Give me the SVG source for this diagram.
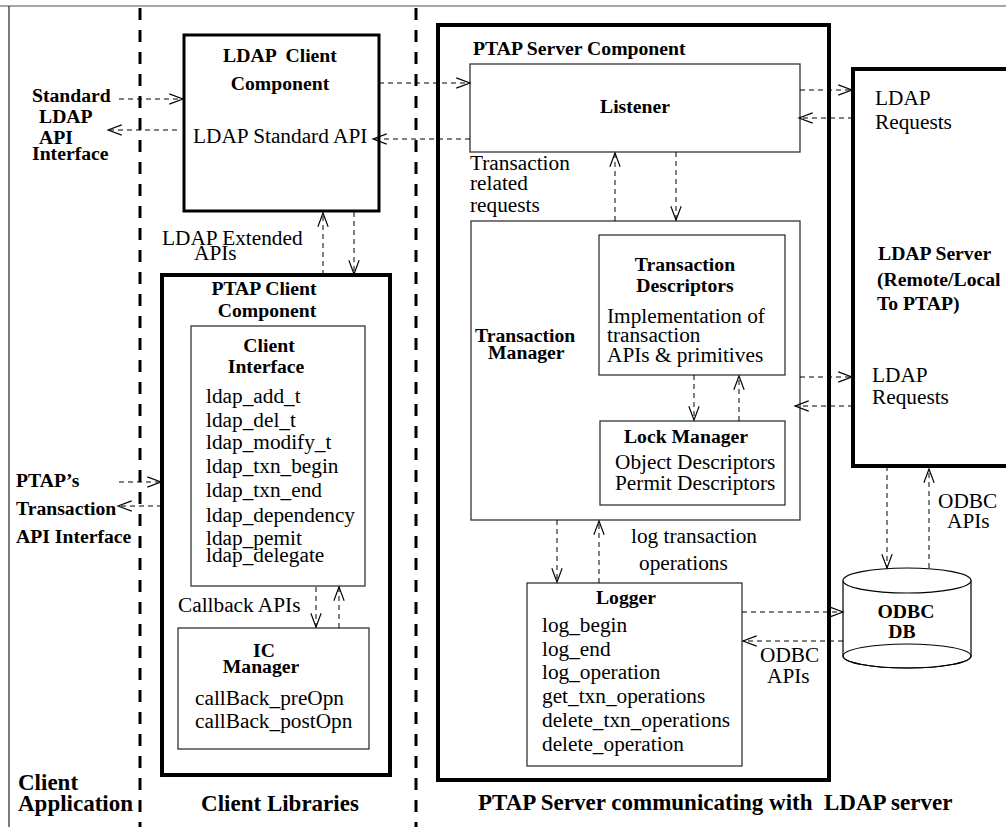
<svg xmlns="http://www.w3.org/2000/svg" width="1006" height="827" viewBox="0 0 1006 827">
<style>
text{font-family:"Liberation Serif","Times New Roman",serif;fill:#000}
.r{font-size:21.3px}
.b{font-size:19.7px;font-weight:bold}
.big{font-size:23px;font-weight:bold}
.m{text-anchor:middle}
.thick{fill:#fff;stroke:#000;stroke-width:4}
.thick3{fill:#fff;stroke:#000;stroke-width:3}
.thin{fill:#fff;stroke:#333;stroke-width:1.3}
.sep{stroke:#000;stroke-width:3;stroke-dasharray:12 10}
.c{fill:none;stroke:#000;stroke-width:1;stroke-dasharray:5 4;marker-end:url(#ah)}
</style>
<defs>
<marker id="ah" markerUnits="userSpaceOnUse" markerWidth="16" markerHeight="12" refX="12" refY="5" orient="auto" viewBox="0 0 14 10">
<path d="M0,0.5 L12,5 L0,9.5" fill="none" stroke="#000" stroke-width="1"/>
</marker>
</defs>
<rect x="0" y="0" width="1006" height="827" fill="#fff"/>
<g id="frame">
<line x1="0" y1="6" x2="1006" y2="6" stroke="#888" stroke-width="1.5"/>
<line x1="9" y1="6" x2="9" y2="827" stroke="#222" stroke-width="1.2"/>
<line class="sep" x1="140" y1="8" x2="140" y2="827"/>
<line class="sep" x1="416" y1="8" x2="416" y2="827"/>
</g>
<g id="ldap-client">
<rect class="thick3" x="184" y="35" width="195" height="176"/>
<text class="b m" x="280" y="62" style="white-space:pre">LDAP  Client</text>
<text class="b m" x="280" y="90">Component</text>
<text class="r" x="193" y="143">LDAP Standard API</text>
</g>
<g id="ptap-client">
<rect class="thick" x="162" y="275" width="228" height="500"/>
<text class="b m" x="264" y="295">PTAP Client</text>
<text class="b m" x="267" y="317">Component</text>
</g>
<g id="client-interface">
<rect class="thin" x="191" y="326" width="174" height="260"/>
<text class="b m" x="269" y="352">Client</text>
<text class="b m" x="266" y="373">Interface</text>
<text class="r" x="206" y="403">ldap_add_t</text>
<text class="r" x="206" y="427">ldap_del_t</text>
<text class="r" x="206" y="449">ldap_modify_t</text>
<text class="r" x="206" y="473">ldap_txn_begin</text>
<text class="r" x="206" y="497">ldap_txn_end</text>
<text class="r" x="206" y="522">ldap_dependency</text>
<text class="r" x="206" y="545">ldap_pemit</text>
<text class="r" x="206" y="562">ldap_delegate</text>
</g>
<g id="ic-manager">
<rect class="thin" x="178" y="628" width="191" height="121"/>
<text class="b m" x="264" y="657">IC</text>
<text class="b m" x="261" y="673">Manager</text>
<text class="r" x="195" y="705">callBack_preOpn</text>
<text class="r" x="195" y="728">callBack_postOpn</text>
</g>
<g id="ptap-server">
<rect class="thick" x="438" y="25" width="391" height="755"/>
<text class="b" x="473" y="55">PTAP Server Component</text>
</g>
<g id="listener">
<rect class="thin" x="470" y="64" width="330" height="88"/>
<text class="b m" x="635" y="113">Listener</text>
</g>
<g id="transaction-manager">
<rect class="thin" x="471" y="221" width="329" height="299"/>
<text class="b" x="475" y="342">Transaction</text>
<text class="b" x="488" y="359">Manager</text>
</g>
<g id="transaction-descriptors">
<rect class="thin" x="599" y="235" width="186" height="140"/>
<text class="b m" x="685" y="271">Transaction</text>
<text class="b m" x="685" y="292">Descriptors</text>
<text class="r" x="607" y="323">Implementation of</text>
<text class="r" x="607" y="342">transaction</text>
<text class="r" x="607" y="362">APIs &amp; primitives</text>
</g>
<g id="lock-manager">
<rect class="thin" x="600" y="421" width="185" height="84"/>
<text class="b m" x="686" y="443">Lock Manager</text>
<text class="r" x="615" y="469">Object Descriptors</text>
<text class="r" x="615" y="490">Permit Descriptors</text>
</g>
<g id="logger">
<rect class="thin" x="527" y="583" width="215" height="183"/>
<text class="b m" x="626" y="604">Logger</text>
<text class="r" x="542" y="632">log_begin</text>
<text class="r" x="542" y="656">log_end</text>
<text class="r" x="542" y="679">log_operation</text>
<text class="r" x="542" y="703">get_txn_operations</text>
<text class="r" x="542" y="727">delete_txn_operations</text>
<text class="r" x="542" y="751">delete_operation</text>
</g>
<g id="ldap-server">
<rect class="thick" x="853" y="69" width="170" height="397"/>
<text class="b" x="878" y="260">LDAP Server</text>
<text class="b" x="877" y="286">(Remote/Local</text>
<text class="b" x="877" y="310">To PTAP)</text>
</g>
<g id="odbc-db">
<path d="M843,580.5 L843,656 A64,12 0 0 0 971,656 L971,580.5" fill="#fff" stroke="#000" stroke-width="1.2"/>
<ellipse cx="907" cy="580.5" rx="64" ry="12.5" fill="#fff" stroke="#000" stroke-width="1.2"/>
<ellipse cx="907" cy="656" rx="64" ry="12" fill="none" stroke="#000" stroke-width="1.2"/>
<text class="b m" x="906" y="618">ODBC</text>
<text class="b m" x="902" y="638">DB</text>
</g>
<g id="connectors">
<line class="c" x1="119" y1="99" x2="183" y2="99"/>
<line class="c" x1="177" y1="130" x2="108" y2="130"/>
<line class="c" x1="379" y1="83" x2="470" y2="83"/>
<line class="c" x1="470" y1="139" x2="373" y2="139"/>
<line class="c" x1="323" y1="275" x2="323" y2="213"/>
<line class="c" x1="354" y1="212" x2="354" y2="274"/>
<line class="c" x1="119" y1="482" x2="161" y2="482"/>
<line class="c" x1="162" y1="506" x2="118" y2="506"/>
<line class="c" x1="316" y1="587" x2="316" y2="627"/>
<line class="c" x1="339" y1="628" x2="339" y2="587"/>
<line class="c" x1="800" y1="90" x2="852" y2="90"/>
<line class="c" x1="853" y1="118" x2="799" y2="118"/>
<line class="c" x1="615" y1="221" x2="615" y2="153"/>
<line class="c" x1="676" y1="152" x2="676" y2="220"/>
<line class="c" x1="694" y1="375" x2="694" y2="420"/>
<line class="c" x1="739" y1="421" x2="739" y2="376"/>
<line class="c" x1="800" y1="377" x2="852" y2="377"/>
<line class="c" x1="853" y1="406" x2="795" y2="406"/>
<line class="c" x1="557" y1="520" x2="557" y2="582"/>
<line class="c" x1="599" y1="583" x2="599" y2="521"/>
<line class="c" x1="742" y1="612" x2="843" y2="612"/>
<line class="c" x1="843" y1="641" x2="743" y2="641"/>
<line class="c" x1="887" y1="466" x2="887" y2="568"/>
<line class="c" x1="929" y1="568" x2="929" y2="469"/>
</g>
<g id="labels">
<text class="b" x="32" y="102">Standard</text>
<text class="b" x="39" y="123">LDAP</text>
<text class="b" x="39" y="144">API</text>
<text class="b" x="32" y="160">Interface</text>
<text class="r" x="162" y="245">LDAP Extended</text>
<text class="r" x="194" y="260">APIs</text>
<text class="b" x="16" y="487">PTAP’s</text>
<text class="b" x="16" y="515">Transaction</text>
<text class="b" x="16" y="543">API Interface</text>
<text class="r" x="178" y="612">Callback APIs</text>
<text class="r" x="875" y="105">LDAP</text>
<text class="r" x="875" y="129">Requests</text>
<text class="r" x="470" y="170">Transaction</text>
<text class="r" x="470" y="190">related</text>
<text class="r" x="470" y="212">requests</text>
<text class="r" x="872" y="382">LDAP</text>
<text class="r" x="872" y="404">Requests</text>
<text class="r" x="938" y="508">ODBC</text>
<text class="r" x="947" y="528">APIs</text>
<text class="r" x="631" y="543">log transaction</text>
<text class="r" x="639" y="570">operations</text>
<text class="r" x="760" y="662">ODBC</text>
<text class="r" x="767" y="683">APIs</text>
<text class="big" x="18" y="790">Client</text>
<text class="big" x="18" y="811">Application</text>
<text class="big m" x="280" y="811">Client Libraries</text>
<text class="big" x="478" y="810" style="white-space:pre">PTAP Server communicating with  LDAP server</text>
</g>
</svg>
